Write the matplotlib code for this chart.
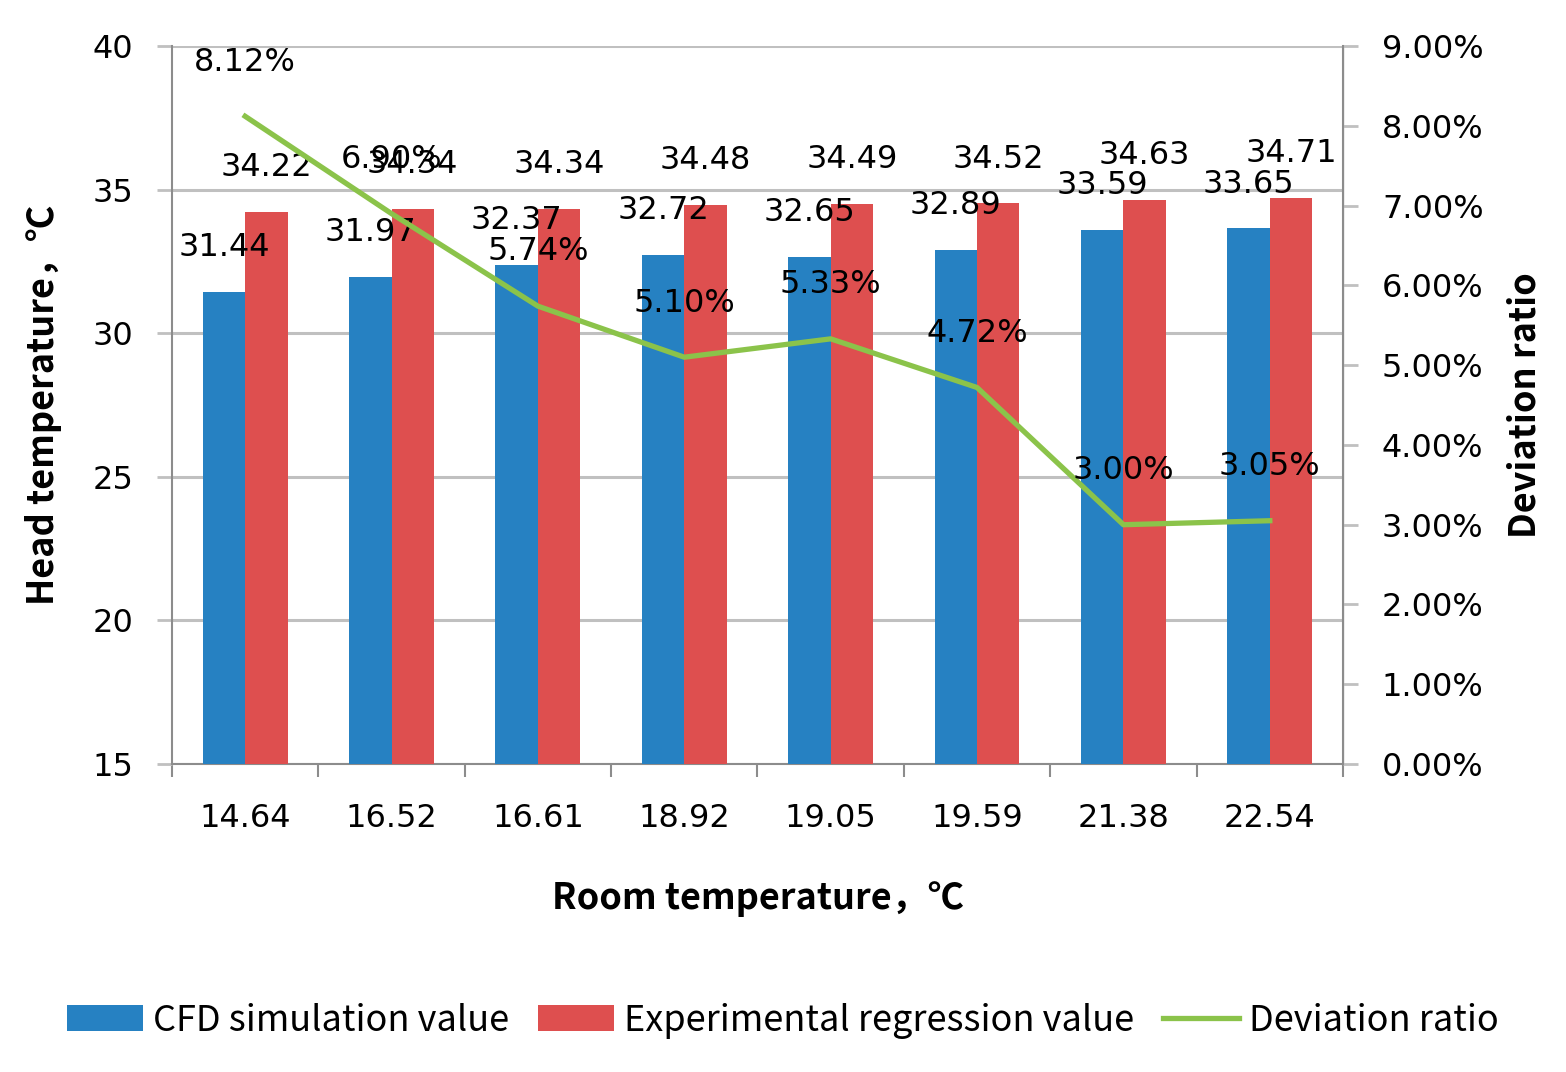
import numpy as np
import matplotlib.pyplot as plt
from matplotlib.ticker import FuncFormatter, FixedLocator

room_temp = ['14.64', '16.52', '16.61', '18.92', '19.05', '19.59', '21.38', '22.54']
cfd_values = [31.44, 31.97, 32.37, 32.72, 32.65, 32.89, 33.59, 33.65]
exp_values = [34.22, 34.34, 34.34, 34.48, 34.49, 34.52, 34.63, 34.71]
deviation = [8.12, 6.90, 5.74, 5.10, 5.33, 4.72, 3.00, 3.05]  # percent

plt.rcParams['font.family'] = ['DejaVu Sans']

blue = '#2681C2'
red = '#DE4F4F'
green = '#8BC34A'
grid_col = '#C0C0C0'
spine_col = '#8C8C8C'
label_font = ['Noto Sans CJK SC', 'DejaVu Sans']
num_size = 23

fig = plt.figure(figsize=(15.66, 10.72), dpi=100)
ax = fig.add_axes([0.1098, 0.2873, 0.7478, 0.6697])
ax2 = ax.twinx()

x = np.arange(len(room_temp))
w = 0.29
b1 = ax.bar(x - w / 2, np.array(cfd_values) - 15, w, bottom=15, color=blue,
            label='CFD simulation value', zorder=3)
b2 = ax.bar(x + w / 2, np.array(exp_values) - 15, w, bottom=15, color=red,
            label='Experimental regression value', zorder=3)

ax.set_ylim(15, 40)
ax.set_xlim(-0.5, len(room_temp) - 0.5)
ax.set_yticks([15, 20, 25, 30, 35, 40])
ax.yaxis.grid(True, color=grid_col, linewidth=2.2, zorder=0)
ax.set_axisbelow(True)

# category boundary ticks, labels at centres
ax.xaxis.set_major_locator(FixedLocator(np.arange(-0.5, len(room_temp), 1.0)))
ax.xaxis.set_minor_locator(FixedLocator(x))
ax.set_xticklabels([])
ax.set_xticklabels(room_temp, minor=True)
ax.tick_params(axis='x', which='major', length=9, width=1.5, color=spine_col, direction='out')
ax.tick_params(axis='x', which='minor', length=0, pad=28, labelsize=num_size)
ax.tick_params(axis='y', length=11, width=2, color=grid_col, pad=17, labelsize=num_size)

ax.spines['top'].set_visible(False)
ax2.spines['top'].set_visible(False)
for s in ['left', 'bottom']:
    ax.spines[s].set_color(spine_col)
    ax.spines[s].set_linewidth(1.5)
ax2.spines['right'].set_color(spine_col)
ax2.spines['right'].set_linewidth(1.5)
ax2.spines['left'].set_visible(False)
ax2.spines['bottom'].set_visible(False)

for xi, v in zip(x, cfd_values):
    ax.annotate(f'{v:.2f}', (xi - w / 2, v), xytext=(0, 32), textcoords='offset points',
                ha='center', va='center', fontsize=num_size, zorder=6)
for xi, v in zip(x, exp_values):
    ax.annotate(f'{v:.2f}', (xi + w / 2, v), xytext=(0, 32), textcoords='offset points',
                ha='center', va='center', fontsize=num_size, zorder=6)

line, = ax2.plot(x, deviation, color=green, linewidth=3.8, label='Deviation ratio', zorder=4)
ax2.set_ylim(0, 9)
ax2.set_yticks(np.arange(0, 10, 1))
ax2.yaxis.set_major_formatter(FuncFormatter(lambda v, p: f'{v:.2f}%'))
ax2.tick_params(axis='y', length=11, width=2, color=grid_col, pad=17, labelsize=num_size)
for xi, v in zip(x, deviation):
    ax2.annotate(f'{v:.2f}%', (xi, v), xytext=(0, 39), textcoords='offset points',
                 ha='center', va='center', fontsize=num_size, zorder=6)

ax.set_ylabel('Head temperature，℃', family=label_font, fontsize=26, fontweight='bold')
ax.yaxis.set_label_coords(-0.094, 0.5)
ax2.set_ylabel('Deviation ratio', family=label_font, fontsize=26, fontweight='bold')
ax2.yaxis.set_label_coords(1.140, 0.5)
ax.set_xlabel('Room temperature，℃', family=label_font, fontsize=26, fontweight='bold')
ax.xaxis.set_label_coords(0.5, -0.162)

fig.legend(handles=[b1, b2, line], loc='center', bbox_to_anchor=(0.5, 0.048), ncol=3,
           frameon=False, prop={'family': label_font, 'size': 26},
           handlelength=2.1, handleheight=0.7, handletextpad=0.28, columnspacing=0.8)

fig.savefig('out.png', dpi=100)
